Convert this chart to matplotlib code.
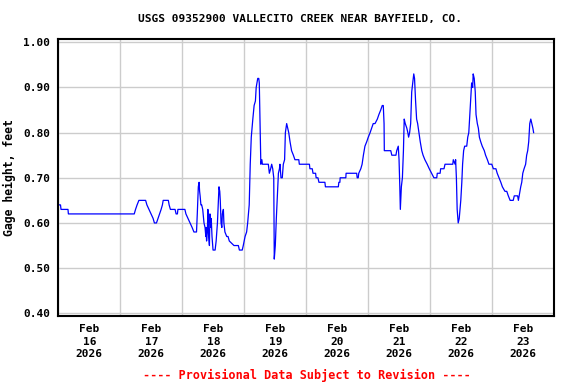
import matplotlib
matplotlib.use("Agg")
import matplotlib.pyplot as plt
from datetime import datetime, timedelta

# hours since 2026-02-16 00:00 and gage height (feet)
hours = [0.0, 0.85, 1.05, 3.75, 3.9, 29.4, 29.9, 30.5, 31.2, 33.8, 34.3, 35.1, 35.9, 36.7, 37.2, 38.0,
         38.6, 39.2, 39.8, 40.3, 40.6, 42.6, 42.9, 43.4, 45.2, 45.6, 46.1, 46.3, 49.0, 49.4, 50.2, 51.0,
         51.8, 52.5, 53.5, 53.8, 54.2, 54.5, 54.7, 54.9, 55.2, 55.5, 55.9, 56.4, 56.8, 57.1, 57.2, 57.4,
         57.7, 57.9, 58.2, 58.5, 58.7, 59.0, 59.2, 59.5, 59.9, 60.7, 61.1, 61.6, 61.9, 62.2, 62.5, 62.7,
         63.0, 63.3, 63.5, 63.9, 64.1, 64.5, 65.2, 65.7, 66.2, 68.0, 69.7, 70.1, 71.2, 71.6, 72.3, 72.9,
         73.3, 73.6, 73.9, 74.3, 74.7, 75.3, 75.8, 76.3, 76.6, 77.2, 77.6, 77.8, 78.1, 78.4, 78.8, 79.0,
         81.3, 81.7, 82.2, 82.6, 83.0, 83.4, 83.6, 84.0, 84.4, 84.8, 85.2, 85.6, 85.8, 86.2, 86.7, 87.1,
         87.6, 87.9, 88.4, 88.8, 89.2, 89.7, 90.3, 91.0, 91.6, 93.1, 93.3, 97.2, 97.4, 98.3, 98.6, 99.6,
         99.8, 100.5, 100.9, 103.2, 103.4, 108.4, 108.6, 109.0, 109.1, 111.3, 111.4, 115.5, 115.7, 116.1,
         116.3, 117.1, 117.6, 118.1, 118.7, 119.4, 120.0, 120.7, 121.3, 121.9, 122.6, 123.5, 124.1, 124.8,
         125.4, 125.8, 126.1, 126.2, 128.7, 129.1, 130.7, 131.0, 131.6, 131.9, 132.2, 132.4, 132.8, 133.2,
         133.6, 133.9, 134.3, 134.9, 135.3, 135.6, 136.0, 136.4, 136.8, 137.2, 137.6, 137.9, 138.3, 138.7,
         139.1, 139.6, 140.1, 140.7, 141.2, 141.9, 142.8, 143.6, 144.5, 145.4, 146.5, 146.7, 147.8, 148.0,
         149.3, 149.7, 152.7, 152.9, 153.6, 153.8, 154.1, 154.4, 154.8, 155.2, 155.8, 156.2, 156.5, 156.9,
         157.3, 158.1, 158.5, 158.9, 159.3, 159.6, 160.0, 160.4, 160.6, 161.0, 161.4, 161.7, 162.2, 162.6,
         163.0, 163.5, 164.1, 164.9, 165.4, 166.1, 166.7, 167.8, 168.4, 169.4, 169.9, 170.6, 171.3, 171.9,
         172.9, 173.6, 174.2, 174.9, 176.1, 176.5, 177.8, 178.1, 178.4, 179.0, 179.4, 179.8, 180.3, 180.9,
         181.3, 181.7, 182.1, 182.5, 182.9, 183.3, 183.7, 184.0]
heights = [0.64, 0.64, 0.63, 0.63, 0.62, 0.62, 0.63, 0.64, 0.65, 0.65, 0.64, 0.63, 0.62, 0.61, 0.60, 0.60,
           0.61, 0.62, 0.63, 0.64, 0.65, 0.65, 0.64, 0.63, 0.63, 0.62, 0.62, 0.63, 0.63, 0.62, 0.61, 0.60,
           0.59, 0.58, 0.58, 0.62, 0.68, 0.69, 0.67, 0.66, 0.64, 0.64, 0.63, 0.60, 0.59, 0.57, 0.59, 0.56,
           0.58, 0.63, 0.57, 0.55, 0.62, 0.59, 0.61, 0.57, 0.54, 0.54, 0.56, 0.60, 0.64, 0.68, 0.67, 0.65,
           0.60, 0.59, 0.62, 0.63, 0.60, 0.58, 0.57, 0.57, 0.56, 0.55, 0.55, 0.54, 0.54, 0.55, 0.57, 0.58,
           0.60, 0.62, 0.64, 0.73, 0.79, 0.83, 0.86, 0.87, 0.90, 0.92, 0.92, 0.91, 0.82, 0.73, 0.74, 0.73,
           0.73, 0.71, 0.72, 0.73, 0.72, 0.70, 0.52, 0.55, 0.61, 0.66, 0.71, 0.72, 0.73, 0.70, 0.70, 0.73,
           0.74, 0.80, 0.82, 0.81, 0.80, 0.78, 0.76, 0.75, 0.74, 0.74, 0.73, 0.73, 0.72, 0.72, 0.71, 0.71,
           0.70, 0.70, 0.69, 0.69, 0.68, 0.68, 0.69, 0.69, 0.70, 0.70, 0.71, 0.71, 0.70, 0.70,
           0.71, 0.72, 0.73, 0.75, 0.77, 0.78, 0.79, 0.80, 0.81, 0.82, 0.82, 0.83, 0.84, 0.85,
           0.86, 0.86, 0.82, 0.76, 0.76, 0.75, 0.75, 0.76, 0.77, 0.74, 0.68, 0.63, 0.68, 0.70,
           0.76, 0.83, 0.82, 0.81, 0.80, 0.79, 0.80, 0.82, 0.89, 0.91, 0.93, 0.92, 0.87, 0.83,
           0.82, 0.80, 0.78, 0.76, 0.75, 0.74, 0.73, 0.72, 0.71, 0.70, 0.70, 0.71, 0.71, 0.72,
           0.72, 0.73, 0.73, 0.74, 0.73, 0.74, 0.70, 0.63, 0.60, 0.61, 0.65, 0.69, 0.73, 0.76,
           0.77, 0.77, 0.79, 0.80, 0.84, 0.87, 0.91, 0.90, 0.93, 0.92, 0.89, 0.84, 0.82, 0.81,
           0.79, 0.78, 0.77, 0.76, 0.75, 0.74, 0.73, 0.73, 0.72, 0.72, 0.71, 0.70, 0.69, 0.68,
           0.67, 0.67, 0.66, 0.65, 0.65, 0.66, 0.66, 0.65, 0.66, 0.68, 0.69, 0.71, 0.72, 0.73,
           0.75, 0.76, 0.78, 0.82, 0.83, 0.82, 0.81, 0.80]

y_ticks = [0.40, 0.50, 0.60, 0.70, 0.80, 0.90, 1.00]
day_labels = ["Feb\n16\n2026", "Feb\n17\n2026", "Feb\n18\n2026", "Feb\n19\n2026",
              "Feb\n20\n2026", "Feb\n21\n2026", "Feb\n22\n2026", "Feb\n23\n2026"]
title = "USGS 09352900 VALLECITO CREEK NEAR BAYFIELD, CO."
footer = "---- Provisional Data Subject to Revision ----"

base = datetime(2026, 2, 16)
times = [base + timedelta(hours=h) for h in hours]

mono = "DejaVu Sans Mono"
fig = plt.figure(figsize=(5.76, 3.84), dpi=100)
ax = fig.add_axes([58.3 / 576, 1 - 316 / 384, 496 / 576, (316 - 39.3) / 384])

ax.plot(times, heights, color="#0000ff", lw=0.9)

ax.set_xlim(base, base + timedelta(days=8))
ax.set_ylim(0.394, 1.0066)

midnights = [base + timedelta(days=d) for d in range(9)]
middays = [base + timedelta(days=d, hours=12) for d in range(8)]
ax.set_xticks(midnights)
ax.set_xticklabels([""] * len(midnights))
ax.set_xticks(middays, minor=True)
ax.set_xticklabels(day_labels, minor=True, fontfamily=mono, fontweight="bold",
                   fontsize=8, linespacing=1.3)
ax.tick_params(axis="x", which="both", length=0, pad=6)

ax.set_yticks(y_ticks)
ax.set_yticklabels([f"{v:.2f}" for v in y_ticks], fontfamily=mono, fontweight="bold", fontsize=8)
ax.tick_params(axis="y", length=0, pad=6)

ax.grid(True, which="major", color="#cccccc", lw=1.0)
ax.set_axisbelow(True)
for s in ax.spines.values():
    s.set_linewidth(1.5)
    s.set_color("black")

ax.set_ylabel("Gage height, feet", fontfamily=mono, fontweight="bold", fontsize=8.3, labelpad=5)

fig.text(300 / 576, 1 - 19 / 384, title, ha="center", va="center",
         fontfamily=mono, fontweight="bold", fontsize=8)
fig.text(307 / 576, 1 - 375 / 384, footer, ha="center", va="center", color="#ff0000",
         fontfamily=mono, fontweight="bold", fontsize=8.5)

fig.savefig("out.png", dpi=100)
